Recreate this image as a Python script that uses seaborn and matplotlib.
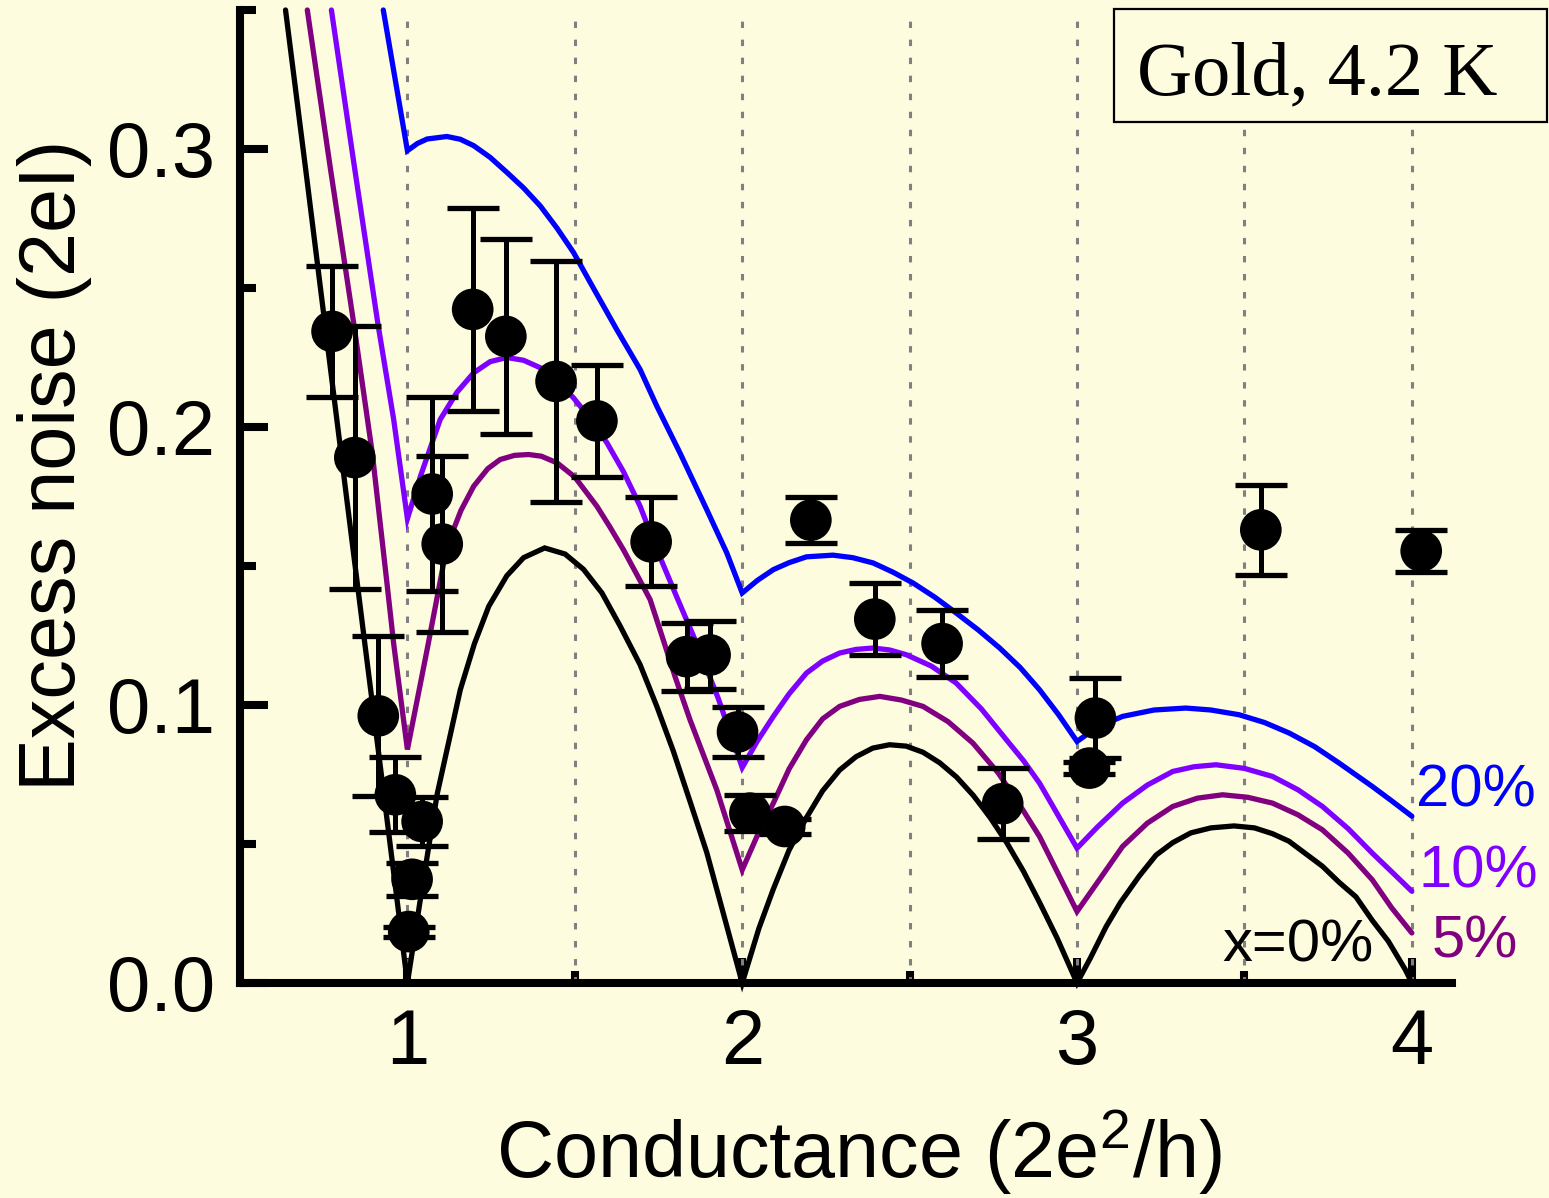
import matplotlib
matplotlib.use("Agg")
import matplotlib.pyplot as plt
import pandas as pd
import seaborn as sns
from matplotlib.patches import Rectangle

# Measured excess noise of gold point contacts at 4.2 K
g_meas = [0.775, 0.843, 0.913, 0.964, 1.044, 1.014, 1.004, 1.074, 1.104, 1.195,
          1.294, 1.444, 1.566, 1.728, 1.834, 1.904, 1.986, 2.023, 2.127, 2.205,
          2.396, 2.597, 2.778, 3.055, 3.037, 3.549, 4.028]
noise_meas = [0.2344, 0.1890, 0.0961, 0.0677, 0.0581, 0.0373, 0.0185, 0.1759, 0.1579, 0.2423,
              0.2326, 0.2164, 0.2022, 0.1587, 0.1174, 0.1180, 0.0903, 0.0611, 0.0563, 0.1665,
              0.1309, 0.1221, 0.0645, 0.0953, 0.0773, 0.1630, 0.1554]
noise_err = [0.0235, 0.0472, 0.0288, 0.0135, 0.0088, 0.0059, 0.0018, 0.0350, 0.0316, 0.0364,
             0.0350, 0.0433, 0.0201, 0.0160, 0.0122, 0.0122, 0.0090, 0.0064, 0.0028, 0.0082,
             0.0130, 0.0122, 0.0128, 0.0144, 0.0022, 0.0163, 0.0075]

# Model curves for different admixtures x of partially open channels
g_x0 = [0.636, 0.700, 0.764, 0.820, 0.875, 0.940, 1.000,
        1.045, 1.089, 1.158, 1.200, 1.243, 1.297, 1.347, 1.410, 1.471, 1.526, 1.581, 1.635,
        1.695, 1.745, 1.794, 1.845, 1.894, 1.950, 2.000,
        2.050, 2.093, 2.140, 2.192, 2.240, 2.291, 2.340, 2.390, 2.440, 2.490, 2.540, 2.590,
        2.640, 2.690, 2.739, 2.790, 2.840, 2.888, 2.940, 3.000,
        3.040, 3.087, 3.130, 3.186, 3.236, 3.286, 3.340, 3.400, 3.469, 3.530, 3.584, 3.633,
        3.683, 3.733, 3.783, 3.833, 3.882, 3.930, 3.981, 4.000]
s_x0 = [0.350, 0.289, 0.227, 0.173, 0.120, 0.058, 0.000,
        0.035, 0.068, 0.1055, 0.122, 0.1355, 0.1465, 0.1530, 0.1565, 0.1543, 0.1488, 0.1403, 0.1285,
        0.1145, 0.0995, 0.0835, 0.0650, 0.0470, 0.0222, 0.000,
        0.0197, 0.0338, 0.0478, 0.0595, 0.0691, 0.0766, 0.0814, 0.0845, 0.0857, 0.0852, 0.0830, 0.0792,
        0.0741, 0.0675, 0.0598, 0.0505, 0.0402, 0.0290, 0.0163, 0.000,
        0.0090, 0.0203, 0.0290, 0.0385, 0.0460, 0.0505, 0.0540, 0.0558, 0.0565, 0.0558, 0.0537, 0.0510,
        0.0465, 0.0420, 0.0362, 0.0310, 0.0225, 0.0150, 0.0047, 0.000]

g_x5 = [0.701, 0.770, 0.840, 0.895, 0.940, 0.959, 1.000,
        1.059, 1.118, 1.160, 1.198, 1.240, 1.277, 1.320, 1.362, 1.400, 1.447, 1.500, 1.566,
        1.605, 1.645, 1.685, 1.725, 1.764, 1.800, 1.844, 1.924, 2.000,
        2.045, 2.093, 2.140, 2.192, 2.240, 2.291, 2.350, 2.411, 2.475, 2.540, 2.615, 2.689,
        2.765, 2.838, 2.888, 2.918, 3.000,
        3.060, 3.136, 3.210, 3.286, 3.360, 3.435, 3.510, 3.584, 3.660, 3.733, 3.810, 3.882,
        3.940, 4.000]
s_x5 = [0.350, 0.293, 0.237, 0.1907, 0.1427, 0.122, 0.084,
        0.120, 0.1571, 0.170, 0.1787, 0.185, 0.1883, 0.1898, 0.1901, 0.1895, 0.1871, 0.182, 0.1715,
        0.164, 0.1559, 0.147, 0.1379, 0.1235, 0.110, 0.0947, 0.0695, 0.0407,
        0.053, 0.0647, 0.077, 0.0875, 0.095, 0.0995, 0.102, 0.1031, 0.1018, 0.0995, 0.094, 0.0863,
        0.0755, 0.0623, 0.0527, 0.0455, 0.0257,
        0.036, 0.0491, 0.0575, 0.0635, 0.0665, 0.0677, 0.0668, 0.0647, 0.0605, 0.0551, 0.0467, 0.0371,
        0.027, 0.018]

g_x10 = [0.773, 0.840, 0.912, 0.959, 1.000,
         1.039, 1.098, 1.148, 1.198, 1.247, 1.297, 1.347, 1.397, 1.447, 1.496, 1.546, 1.596,
         1.645, 1.695, 1.750, 1.804, 1.859, 1.928, 2.000,
         2.045, 2.093, 2.140, 2.192, 2.240, 2.291, 2.340, 2.391, 2.440, 2.490, 2.565, 2.639,
         2.715, 2.789, 2.840, 2.888, 2.945, 3.000,
         3.060, 3.136, 3.210, 3.286, 3.350, 3.415, 3.500, 3.584, 3.660, 3.733, 3.810, 3.882,
         3.940, 4.000]
s_x10 = [0.350, 0.295, 0.237, 0.2027, 0.167,
         0.1823, 0.2027, 0.2125, 0.2195, 0.2235, 0.2250, 0.2240, 0.2213, 0.2165, 0.2105, 0.2030, 0.1943,
         0.1840, 0.1715, 0.1545, 0.1390, 0.1235, 0.1025, 0.0775,
         0.0870, 0.0959, 0.1040, 0.1115, 0.1158, 0.1187, 0.1200, 0.1205, 0.1198, 0.1181, 0.1140, 0.1079,
         0.0985, 0.0875, 0.0800, 0.0719, 0.0600, 0.0485,
         0.0560, 0.0647, 0.0712, 0.0761, 0.0778, 0.0785, 0.0772, 0.0743, 0.0695, 0.0635, 0.0555, 0.0467,
         0.0400, 0.0330]

g_x20 = [0.928, 1.000,
         1.030, 1.059, 1.118, 1.158, 1.198, 1.247, 1.297, 1.347, 1.397, 1.447, 1.496, 1.560,
         1.625, 1.695, 1.745, 1.814, 1.894, 1.954, 2.000,
         2.045, 2.093, 2.140, 2.192, 2.271, 2.330, 2.391, 2.450, 2.510, 2.575, 2.639, 2.705,
         2.769, 2.830, 2.888, 2.945, 3.000,
         3.060, 3.136, 3.230, 3.325, 3.400, 3.484, 3.560, 3.634, 3.710, 3.783, 3.882, 3.940,
         4.000]
s_x20 = [0.350, 0.2994,
         0.3020, 0.3036, 0.3045, 0.3035, 0.3012, 0.2970, 0.2916, 0.2860, 0.2795, 0.2715, 0.2628, 0.2490,
         0.2351, 0.2207, 0.2075, 0.1907, 0.1703, 0.1547, 0.1403,
         0.1448, 0.1487, 0.1512, 0.1533, 0.1539, 0.1530, 0.1511, 0.1478, 0.1439, 0.1388, 0.1331, 0.1270,
         0.1205, 0.1135, 0.1055, 0.0965, 0.0869,
         0.0920, 0.0959, 0.0982, 0.0989, 0.0982, 0.0965, 0.0937, 0.0899, 0.0850, 0.0791, 0.0707, 0.0655,
         0.0600]

curve_names = ["x=0%", "5%", "10%", "20%"]
curve_colors = ["#000000", "#800080", "#8000FF", "#0000FF"]
grid_x = [1.0, 1.5, 2.0, 2.5, 3.0, 3.5, 4.0]

BG = "#FDFCDF"
sns.set_theme(style="ticks", rc={"axes.facecolor": BG, "figure.facecolor": BG,
                                 "savefig.facecolor": BG})
plt.rcParams["font.family"] = ["Liberation Sans", "DejaVu Sans"]
plt.rcParams["mathtext.fontset"] = "custom"
plt.rcParams["mathtext.rm"] = "Liberation Sans"
plt.rcParams["mathtext.it"] = "Liberation Sans:italic"

W, H = 1549, 1198
fig = plt.figure(figsize=(W / 100, H / 100), dpi=100)
ax = fig.add_axes([240 / W, 1 - 983 / H, (1452 - 240) / W, (983 - 10) / H])

# dotted guides at integer and half-integer conductance
for gx in grid_x:
    ax.axvline(gx, color="#808080", lw=2.2, ls=(0, (2.1, 3.8)), zorder=1)

frames = []
for name, g, s in zip(curve_names, [g_x0, g_x5, g_x10, g_x20], [s_x0, s_x5, s_x10, s_x20]):
    frames.append(pd.DataFrame({"G": g, "S": s, "model": name}))
curves = pd.concat(frames, ignore_index=True)
sns.lineplot(data=curves, x="G", y="S", hue="model", hue_order=curve_names,
             palette=dict(zip(curve_names, curve_colors)), estimator=None, sort=False,
             lw=3.8, legend=False, ax=ax, zorder=2)
for ln in ax.get_lines():
    if ln.get_linestyle() == "-":
        ln.set_solid_joinstyle("miter")
        ln.set_clip_on(False)

ax.errorbar(g_meas, noise_meas, yerr=noise_err, fmt="none", ecolor="black",
            elinewidth=3.6, capsize=18.5, capthick=3.8, zorder=4)
sns.scatterplot(x=g_meas, y=noise_meas, s=900, color="black", edgecolor="none",
                linewidth=0, ax=ax, zorder=5)

ax.set_xlim(0.5, 4.12)
ax.set_ylim(0, 0.35)
ax.set_xticks([1, 2, 3, 4])
ax.set_xticklabels(["1", "2", "3", "4"])
ax.set_xticks([1.5, 2.5, 3.5], minor=True)
ax.set_yticks([0.0, 0.1, 0.2, 0.3])
ax.set_yticklabels(["0.0", "0.1", "0.2", "0.3"])
ax.set_yticks([0.05, 0.15, 0.25, 0.35], minor=True)
ax.tick_params(axis="x", which="major", direction="in", length=18, width=5.8,
               labelsize=56, pad=17, color="black", labelcolor="black")
ax.tick_params(axis="x", which="minor", direction="in", length=8.6, width=5.8, color="black")
ax.tick_params(axis="y", which="major", direction="in", length=20, width=5.8,
               labelsize=56, pad=18, color="black", labelcolor="black")
ax.tick_params(axis="y", which="minor", direction="in", length=11.5, width=5.8, color="black")

for side in ["top", "right"]:
    ax.spines[side].set_visible(False)
for side in ["left", "bottom"]:
    ax.spines[side].set_linewidth(5.8)
    ax.spines[side].set_color("black")
    ax.spines[side].set_zorder(3)

ax.set_xlabel("Conductance (2e$^{2}$/h)", fontsize=57, color="black")
ax.xaxis.set_label_coords(0.511, -0.128)
ax.set_ylabel("Excess noise (2eI)", fontsize=57, color="black")
ax.yaxis.label.set_verticalalignment("center")
ax.yaxis.set_label_coords(-0.153, 0.532)

# curve labels at the right end
label_pos = {"20%": (4.012, 0.0634), "10%": (4.021, 0.0342), "5%": (4.06, 0.009),
             "x=0%": (3.434, 0.0076)}
for name, col in zip(curve_names, curve_colors):
    lx, ly = label_pos[name]
    ax.text(lx, ly, name, color=col, fontsize=43, ha="left", va="baseline", zorder=6)

# sample box
fig.add_artist(Rectangle((1114 / W, 1 - 122 / H), (1547 - 1114) / W, 113 / H,
                         transform=fig.transFigure, facecolor=BG, edgecolor="black",
                         lw=1.6, zorder=10))
fig.text(1137 / W, 1 - 94 / H, "Gold, 4.2 K", fontsize=55,
         family=["Liberation Serif", "DejaVu Serif"], color="black",
         ha="left", va="baseline", zorder=11)

fig.savefig("out.png", dpi=100, facecolor=BG)
